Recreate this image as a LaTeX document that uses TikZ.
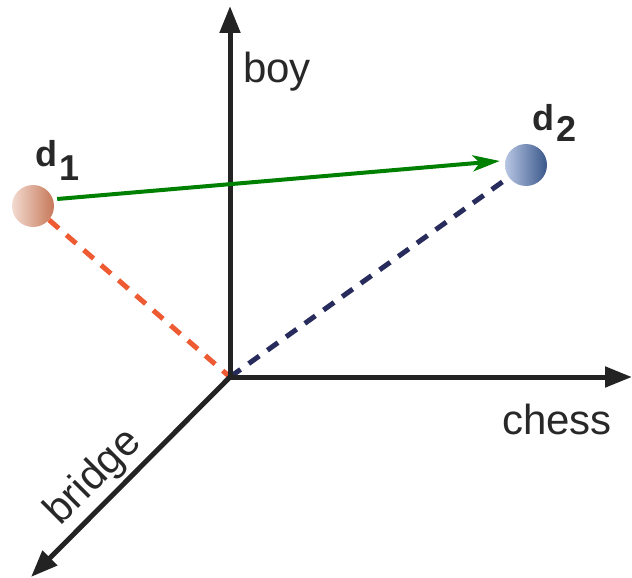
\documentclass[tikz,border=0pt]{standalone}
\usepackage{fontspec}
\setmainfont{Liberation Sans}
\usetikzlibrary{arrows.meta}
\definecolor{axisc}{RGB}{35,35,35}
\definecolor{textc}{RGB}{40,40,40}
\definecolor{greenc}{RGB}{0,128,0}
\definecolor{redc}{RGB}{238,90,50}
\definecolor{navyc}{RGB}{40,44,92}
\definecolor{pinkl}{RGB}{242,218,208}
\definecolor{pinkr}{RGB}{198,120,88}
\definecolor{bluel}{RGB}{184,198,228}
\definecolor{bluer}{RGB}{58,88,138}
\tikzset{
  axis/.style={draw=axisc, line width=5pt, -{Triangle[length=27pt,width=20pt]}},
  axlabel/.style={text=textc, font=\fontsize{42}{50}\selectfont, inner sep=0pt},
  dlabel/.style={text=textc, font=\fontsize{36}{42}\selectfont\bfseries, inner sep=0pt, anchor=base west},
  ball/.style={circle, minimum size=42pt, inner sep=0pt},
  dashred/.style={draw=redc, line width=5pt, dash pattern=on 13pt off 10pt},
  dashnavy/.style={draw=navyc, line width=5pt, dash pattern=on 13pt off 10pt},
  greenarrow/.style={draw=greenc, line width=4pt, -{Stealth[length=27pt,width=16pt,inset=7pt]}}
}
\begin{document}
\begin{tikzpicture}[x=1pt,y=-1pt]
\useasboundingbox (0,0) rectangle (632,578);
\coordinate (O) at (230,377);
\coordinate (ytip) at (230,6);
\coordinate (xtip) at (632,377);
\coordinate (ztip) at (31,577);
% balls
\node[ball, left color=pinkl, right color=pinkr] (d1ball) at (33,206) {};
\node[ball, left color=bluel, right color=bluer] (d2ball) at (526,165) {};
% dashed lines
\draw[dashred] (d1ball) -- (O);
\draw[dashnavy] (O) -- (d2ball);
% axes
\draw[axis] (O) -- (ytip);
\draw[axis] (O) -- (xtip);
\draw[axis] (O) -- (ztip);
% green arrow
\draw[greenarrow] ([shift={(3,-7)}]d1ball.east) -- ([shift={(-5,-4)}]d2ball.west);
% labels
\node[axlabel, anchor=base west] (boy) at (243,82) {boy};
\node[axlabel, anchor=base west] (chess) at (502,434) {chess};
\node[axlabel, anchor=center, rotate=45] (bridge) at (94,478) {bridge};
\node[dlabel] (d1d) at (35,166) {d};
\node[dlabel] (d1s) at (59,180) {1};
\node[dlabel] (d2d) at (532,130) {d};
\node[dlabel] (d2s) at (556,141) {2};
\end{tikzpicture}
\end{document}
